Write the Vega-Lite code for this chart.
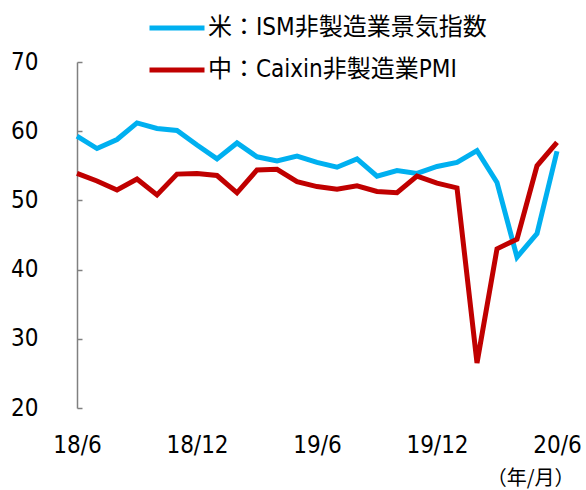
{
  "$schema": "https://vega.github.io/schema/vega-lite/v6.json",
  "width": 480,
  "height": 346,
  "autosize": {"type": "none"},
  "padding": {"left": 77, "top": 62, "right": 29, "bottom": 82},
  "config": {
    "view": {"stroke": null},
    "font": "DejaVu Sans Condensed, DejaVu Sans, Noto Sans CJK JP",
    "axis": {"grid": false, "labelColor": "#000000", "labelFont": "DejaVu Sans Condensed, DejaVu Sans, Noto Sans CJK JP", "labelFontSize": 24}
  },
  "datasets": {
    "pmi": [
      {"month": "18/6", "series": "米：ISM非製造業景気指数", "value": 59.3},
      {"month": "18/7", "series": "米：ISM非製造業景気指数", "value": 57.5},
      {"month": "18/8", "series": "米：ISM非製造業景気指数", "value": 58.8},
      {"month": "18/9", "series": "米：ISM非製造業景気指数", "value": 61.2},
      {"month": "18/10", "series": "米：ISM非製造業景気指数", "value": 60.4},
      {"month": "18/11", "series": "米：ISM非製造業景気指数", "value": 60.1},
      {"month": "18/12", "series": "米：ISM非製造業景気指数", "value": 58.0},
      {"month": "19/1", "series": "米：ISM非製造業景気指数", "value": 56.0},
      {"month": "19/2", "series": "米：ISM非製造業景気指数", "value": 58.3},
      {"month": "19/3", "series": "米：ISM非製造業景気指数", "value": 56.3},
      {"month": "19/4", "series": "米：ISM非製造業景気指数", "value": 55.7},
      {"month": "19/5", "series": "米：ISM非製造業景気指数", "value": 56.4},
      {"month": "19/6", "series": "米：ISM非製造業景気指数", "value": 55.5},
      {"month": "19/7", "series": "米：ISM非製造業景気指数", "value": 54.8},
      {"month": "19/8", "series": "米：ISM非製造業景気指数", "value": 56.0},
      {"month": "19/9", "series": "米：ISM非製造業景気指数", "value": 53.5},
      {"month": "19/10", "series": "米：ISM非製造業景気指数", "value": 54.3},
      {"month": "19/11", "series": "米：ISM非製造業景気指数", "value": 53.9},
      {"month": "19/12", "series": "米：ISM非製造業景気指数", "value": 54.9},
      {"month": "20/1", "series": "米：ISM非製造業景気指数", "value": 55.5},
      {"month": "20/2", "series": "米：ISM非製造業景気指数", "value": 57.2},
      {"month": "20/3", "series": "米：ISM非製造業景気指数", "value": 52.6},
      {"month": "20/4", "series": "米：ISM非製造業景気指数", "value": 41.8},
      {"month": "20/5", "series": "米：ISM非製造業景気指数", "value": 45.2},
      {"month": "20/6", "series": "米：ISM非製造業景気指数", "value": 57.1},
      {"month": "18/6", "series": "中：Caixin非製造業PMI", "value": 53.9},
      {"month": "18/7", "series": "中：Caixin非製造業PMI", "value": 52.8},
      {"month": "18/8", "series": "中：Caixin非製造業PMI", "value": 51.5},
      {"month": "18/9", "series": "中：Caixin非製造業PMI", "value": 53.1},
      {"month": "18/10", "series": "中：Caixin非製造業PMI", "value": 50.8},
      {"month": "18/11", "series": "中：Caixin非製造業PMI", "value": 53.8},
      {"month": "18/12", "series": "中：Caixin非製造業PMI", "value": 53.9},
      {"month": "19/1", "series": "中：Caixin非製造業PMI", "value": 53.6},
      {"month": "19/2", "series": "中：Caixin非製造業PMI", "value": 51.1},
      {"month": "19/3", "series": "中：Caixin非製造業PMI", "value": 54.4},
      {"month": "19/4", "series": "中：Caixin非製造業PMI", "value": 54.5},
      {"month": "19/5", "series": "中：Caixin非製造業PMI", "value": 52.7},
      {"month": "19/6", "series": "中：Caixin非製造業PMI", "value": 52.0},
      {"month": "19/7", "series": "中：Caixin非製造業PMI", "value": 51.6},
      {"month": "19/8", "series": "中：Caixin非製造業PMI", "value": 52.1},
      {"month": "19/9", "series": "中：Caixin非製造業PMI", "value": 51.3},
      {"month": "19/10", "series": "中：Caixin非製造業PMI", "value": 51.1},
      {"month": "19/11", "series": "中：Caixin非製造業PMI", "value": 53.5},
      {"month": "19/12", "series": "中：Caixin非製造業PMI", "value": 52.5},
      {"month": "20/1", "series": "中：Caixin非製造業PMI", "value": 51.8},
      {"month": "20/2", "series": "中：Caixin非製造業PMI", "value": 26.5},
      {"month": "20/3", "series": "中：Caixin非製造業PMI", "value": 43.0},
      {"month": "20/4", "series": "中：Caixin非製造業PMI", "value": 44.4},
      {"month": "20/5", "series": "中：Caixin非製造業PMI", "value": 55.0},
      {"month": "20/6", "series": "中：Caixin非製造業PMI", "value": 58.4}
    ]
  },
  "layer": [
    {
      "mark": {"type": "rule", "color": "#808080", "strokeWidth": 1.5},
      "encoding": {"y": {"datum": 50, "type": "quantitative", "scale": {"domain": [20, 70]}}}
    },
    {
      "data": {"name": "pmi"},
      "mark": {"type": "line", "strokeWidth": 5, "strokeJoin": "miter"},
      "encoding": {
        "x": {
          "field": "month", "type": "ordinal", "sort": null,
          "scale": {"type": "point", "padding": 0},
          "axis": {
            "domain": false, "ticks": false, "labelAngle": 0, "labelPadding": 25,
            "labelBaseline": "top",
            "labelExpr": "indexof(['18/6','18/12','19/6','19/12','20/6'], datum.label) >= 0 ? datum.label : ''",
            "title": "（年/月）", "titleFontSize": 20, "titleFontWeight": "normal",
            "titleFont": "Noto Sans CJK JP", "titleColor": "#000000",
            "titleAlign": "right", "titleAnchor": null, "titleX": 497, "titleY": 70, "titleBaseline": "middle"
          }
        },
        "y": {
          "field": "value", "type": "quantitative",
          "scale": {"domain": [20, 70]},
          "axis": {
            "values": [20, 30, 40, 50, 60, 70], "title": null,
            "domainColor": "#808080", "domainWidth": 1.5,
            "tickColor": "#808080", "tickWidth": 1.5, "tickSize": -5,
            "labelPadding": 44
          }
        },
        "color": {
          "field": "series", "type": "nominal",
          "scale": {"domain": ["米：ISM非製造業景気指数", "中：Caixin非製造業PMI"], "range": ["#00B0F0", "#C00000"]},
          "legend": {
            "title": null, "orient": "none", "legendX": 70, "legendY": -64,
            "symbolType": "stroke", "symbolSize": 3025, "symbolStrokeWidth": 5,
            "labelFontSize": 24, "labelFont": "DejaVu Sans Condensed, DejaVu Sans, Noto Sans CJK JP", "labelColor": "#000000",
            "labelOffset": 1, "rowPadding": -7, "labelLimit": 400
          }
        }
      }
    }
  ]
}
